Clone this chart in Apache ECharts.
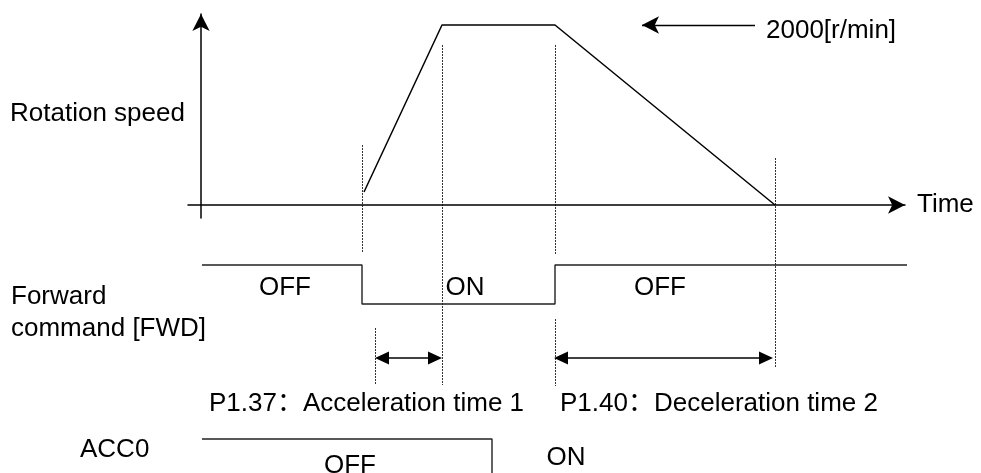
<!DOCTYPE html>
<html>
<head>
<meta charset="utf-8">
<script src="https://cdn.jsdelivr.net/npm/echarts@6/dist/echarts.min.js"></script>
<style>
  html, body { margin: 0; padding: 0; background: #fff; }
  #main { width: 981px; height: 473px; }
</style>
</head>
<body>
<div id="main"></div>
<script>
// time unit is arbitrary, speed in r/min, signal levels 1 = high line, 0 = low line
const speedTimes = [8.15, 12.05, 17.7, 28.7];
const speedValues = [145, 2000, 2000, 0];
const refSpeed = 2000;
const refPointerTimes = [27.7, 22.05];

const fwdTimes = [0.05, 8.05, 8.05, 17.7, 17.7, 35.35];
const fwdLevels = [1, 1, 0, 0, 1, 1];
const fwdStates = ['OFF', 'ON', 'OFF'];
const fwdStateTimes = [4.2, 13.2, 22.95];

const acc0Times = [0.05, 14.55, 14.55];
const acc0Levels = [1, 1, 0];
const acc0States = ['OFF', 'ON'];
const acc0StateTimes = [7.45, 18.25];

const accelSpan = [8.7, 12.05];
const decelSpan = [17.65, 28.6];
const spanLabels = ['P1.37：Acceleration time 1', 'P1.40：Deceleration time 2'];

// dotted guide lines (times) -> vertical pixel extents are layout only
const guideTimes = [8.05, 12.05, 17.7, 28.7, 8.7];
const guideExtents = [[[145, 252]], [[45, 385]], [[45, 255], [319, 386]], [[158, 368]], [[328, 385]]];

const INK = '#000';
const FONT = '"Liberation Sans", Arial, "Noto Sans CJK SC", sans-serif';
const FS = 26;

const zip = (a, b) => a.map((v, i) => [v, b[i]]);

const chart = echarts.init(document.getElementById('main'));

const hiddenX = (i) => ({ type: 'value', gridIndex: i, min: -0.65, max: 35.2, show: false });
const hiddenY = (i) => ({ type: 'value', gridIndex: i, min: 0, max: 1, show: false });

chart.setOption({
  animation: false,
  grid: [
    { left: 188, right: 76, top: 14, height: 204, outerBoundsMode: 'none' },
    { left: 188, right: 76, top: 265, height: 39, outerBoundsMode: 'none' },
    { left: 188, right: 76, top: 439, height: 39, outerBoundsMode: 'none' }
  ],
  xAxis: [
    {
      type: 'value', gridIndex: 0, min: -0.65, max: 35.2,
      axisLine: { show: true, onZero: true, symbol: ['none', 'arrow'], symbolSize: [13, 17], lineStyle: { color: INK, width: 1.5 } },
      axisTick: { show: false }, axisLabel: { show: false }, splitLine: { show: false }
    },
    hiddenX(1), hiddenX(2)
  ],
  yAxis: [
    {
      type: 'value', gridIndex: 0, min: -144, max: 2122,
      axisLine: { show: true, onZero: true, symbol: ['none', 'arrow'], symbolSize: [13, 17], lineStyle: { color: INK, width: 1.5 } },
      axisTick: { show: false }, axisLabel: { show: false }, splitLine: { show: false }
    },
    hiddenY(1), hiddenY(2)
  ],
  series: [
    {
      type: 'line', xAxisIndex: 0, yAxisIndex: 0, symbol: 'none', clip: false,
      data: zip(speedTimes, speedValues),
      lineStyle: { color: INK, width: 1.5 },
      markLine: {
        silent: true, symbol: ['none', 'arrow'], symbolSize: [13, 17],
        label: { show: false },
        lineStyle: { color: INK, width: 1.3, type: 'solid' },
        data: [[{ coord: [refPointerTimes[0], refSpeed] }, { coord: [refPointerTimes[1], refSpeed] }]]
      }
    },
    {
      type: 'line', xAxisIndex: 1, yAxisIndex: 1, symbol: 'none', clip: false,
      data: zip(fwdTimes, fwdLevels),
      lineStyle: { color: '#222', width: 1.4 }
    },
    {
      type: 'line', xAxisIndex: 2, yAxisIndex: 2, symbol: 'none', clip: false,
      data: zip(acc0Times, acc0Levels),
      lineStyle: { color: '#222', width: 1.4 }
    }
  ]
});

const px = (t) => chart.convertToPixel({ xAxisIndex: 0 }, t);

function text(str, x, y, align) {
  return {
    type: 'text', x: x, y: y, silent: true,
    style: { text: str, fill: INK, fontSize: FS, fontFamily: FONT, align: align || 'left', textAlign: align || 'left', verticalAlign: 'middle', textVerticalAlign: 'middle' }
  };
}

function vline(x, y1, y2) {
  return {
    type: 'line', silent: true,
    shape: { x1: x, y1: y1, x2: x, y2: y2 },
    style: { stroke: '#333', lineWidth: 1, lineDash: [2, 1] }
  };
}

function doubleArrow(t0, t1, y) {
  const a = px(t0), b = px(t1), L = 14, H = 6.5;
  return [
    { type: 'line', silent: true, shape: { x1: a + 4, y1: y, x2: b - 4, y2: y }, style: { stroke: INK, lineWidth: 1.4 } },
    { type: 'polygon', silent: true, shape: { points: [[a, y], [a + L, y - H], [a + L, y + H]] }, style: { fill: INK } },
    { type: 'polygon', silent: true, shape: { points: [[b, y], [b - L, y - H], [b - L, y + H]] }, style: { fill: INK } }
  ];
}

const g = [];
guideTimes.forEach((t, i) => {
  guideExtents[i].forEach((e) => g.push(vline(Math.round(px(t)) + 0.5, e[0], e[1])));
});
g.push(...doubleArrow(accelSpan[0], accelSpan[1], 358));
g.push(...doubleArrow(decelSpan[0], decelSpan[1], 358));

g.push(text('Rotation speed', 10, 114));
g.push(text(refSpeed + '[r/min]', 766, 31));
g.push(text('Time', 917, 205));
g.push(text('Forward', 11, 297));
g.push(text('command [FWD]', 11, 329));
fwdStates.forEach((s, i) => g.push(text(s, px(fwdStateTimes[i]), 288, 'center')));
g.push(text(spanLabels[0], 209, 404));
g.push(text(spanLabels[1], 560, 404));
g.push(text('ACC0', 80, 450));
g.push(text(acc0States[0], px(acc0StateTimes[0]), 466, 'center'));
g.push(text(acc0States[1], px(acc0StateTimes[1]), 458, 'center'));

chart.setOption({ graphic: { elements: g } });
</script>
</body>
</html>
